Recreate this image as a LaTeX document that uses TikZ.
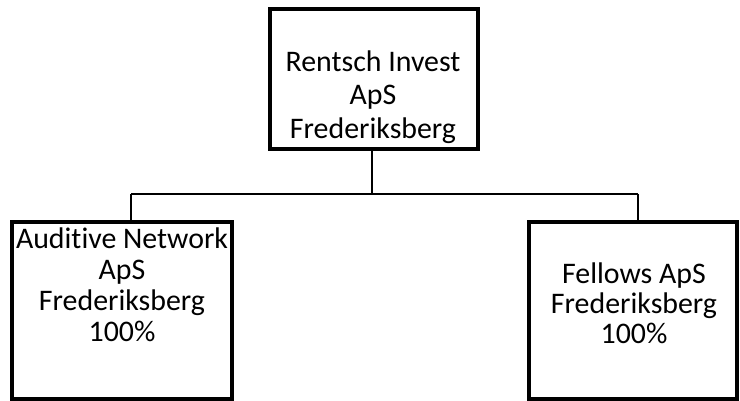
\documentclass[tikz,border=0pt]{standalone}
\usepackage{fontspec}
\setmainfont[Ligatures=NoCommon]{Carlito}
\usetikzlibrary{positioning}

\begin{document}
\begin{tikzpicture}[x=0.02cm,y=-0.02cm]
	\tikzstyle{firm}=[rectangle,draw,line width=2.2pt,inner sep=0pt]
	\tikzstyle{txt}=[align=center,inner sep=0pt]
	\tikzstyle{link}=[line width=0.85pt]
	\useasboundingbox (0,0) rectangle (740,401);
	
	% boxes
	\node[firm,minimum width=208*0.02cm,minimum height=140*0.02cm](top) at (374,79){};
	\node[firm,minimum width=220*0.02cm,minimum height=177*0.02cm](left) at (122,310.5){};
	\node[firm,minimum width=208*0.02cm,minimum height=177*0.02cm](right) at (633,310.5){};
	
	% names
	\node[txt,font=\fontsize{17pt}{19pt}\selectfont](toptxt) at (373,97){Rentsch Invest\\ApS\\Frederiksberg};
	\node[txt,font=\fontsize{17pt}{17.7pt}\selectfont](lefttxt) at (122,285){Auditive Network\\ApS\\Frederiksberg\\100\%};
	\node[txt,font=\fontsize{17pt}{17pt}\selectfont](righttxt) at (634,303){Fellows ApS\\Frederiksberg\\100\%};
	
	% connectors
	\coordinate (hub) at (372,194);
	\coordinate (lhub) at (131,194);
	\coordinate (rhub) at (638,194);
	\draw[link] (top.south -| hub) -- (hub);
	\draw[link] (lhub) -- (rhub);
	\draw[link] (lhub) -- (lhub |- left.north);
	\draw[link] (rhub) -- (rhub |- right.north);
\end{tikzpicture}
\end{document}
